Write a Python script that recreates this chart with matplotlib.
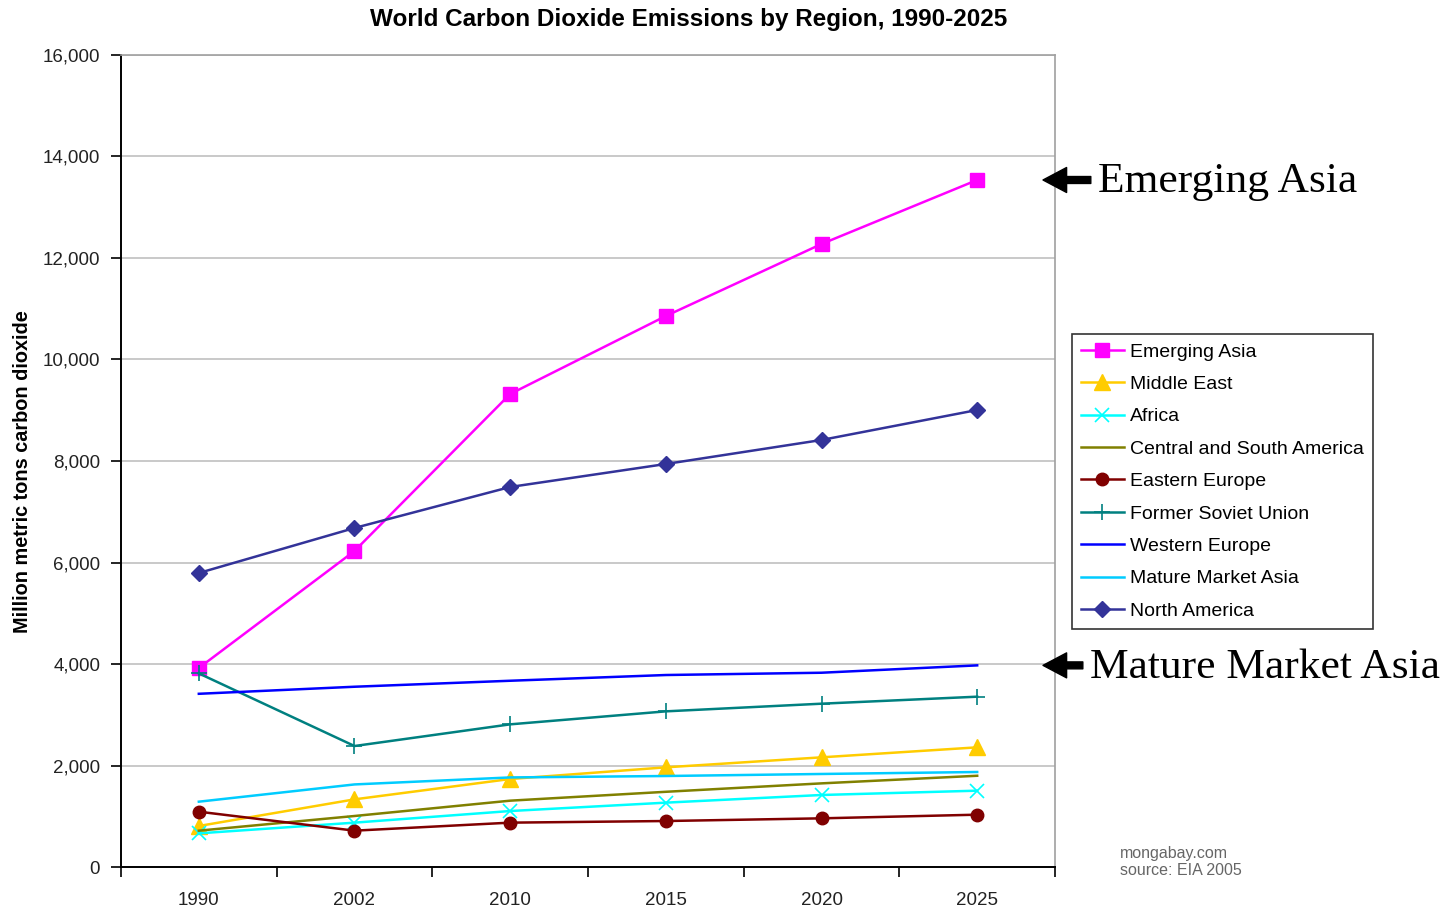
import matplotlib.pyplot as plt
from matplotlib.ticker import FuncFormatter

plt.rcParams["font.family"] = ["Liberation Sans", "DejaVu Sans"]

years = ["1990", "2002", "2010", "2015", "2020", "2025"]

emerging_asia = [3921, 6227, 9320, 10857, 12276, 13537]
middle_east = [808, 1333, 1734, 1964, 2161, 2358]
africa = [663, 874, 1103, 1268, 1419, 1504]
central_south_america = [716, 1005, 1307, 1482, 1648, 1798]
eastern_europe = [1090, 716, 874, 906, 959, 1031]
former_soviet_union = [3815, 2384, 2811, 3067, 3218, 3356]
western_europe = [3413, 3552, 3670, 3783, 3828, 3973]
mature_market_asia = [1287, 1627, 1765, 1793, 1833, 1872]
north_america = [5793, 6680, 7488, 7941, 8414, 9005]

series = [
    ("Emerging Asia", emerging_asia, "#FF00FF", "s", 10, None),
    ("Middle East", middle_east, "#FFCC00", "^", 11, None),
    ("Africa", africa, "#00FFFF", "x", 10, 1.2),
    ("Central and South America", central_south_america, "#808000", None, 0, None),
    ("Eastern Europe", eastern_europe, "#800000", "o", 9, None),
    ("Former Soviet Union", former_soviet_union, "#008080", "+", 12, 1.2),
    ("Western Europe", western_europe, "#0000FF", None, 0, None),
    ("Mature Market Asia", mature_market_asia, "#00CCFF", None, 0, None),
    ("North America", north_america, "#333399", "D", 8, None),
]

fig = plt.figure(figsize=(14.49, 9.09), dpi=100)
ax = fig.add_axes([0.0835, 0.0462, 0.6446, 0.8933])

x = [i + 0.5 for i in range(len(years))]
for name, vals, color, marker, ms, mew in series:
    kw = {}
    if mew is not None:
        kw["markeredgewidth"] = mew
    ax.plot(x, vals, color=color, lw=1.8, marker=marker, markersize=ms,
            markeredgecolor=color, label=name, **kw)

ax.set_xlim(0, 6)
ax.set_ylim(0, 16000)
ax.set_yticks(range(0, 16001, 2000))
ax.yaxis.set_major_formatter(FuncFormatter(lambda v, p: f"{int(v):,}"))
ax.grid(axis="y", color="#C0C0C0", lw=1.2)
ax.set_axisbelow(True)

ax.set_xticks(range(0, 7))
ax.set_xticklabels([])
ax.set_xticks(x, minor=True)
ax.set_xticklabels(years, minor=True)
ax.tick_params(axis="x", which="minor", length=0, pad=18, labelsize=13.5, labelcolor="#222222")
ax.tick_params(axis="x", which="major", length=7, width=1.2, direction="out")
ax.tick_params(axis="y", length=7, width=1.2, labelsize=13.5, labelcolor="#222222", pad=8)

for side in ["top", "right"]:
    ax.spines[side].set_color("#A0A0A0")
    ax.spines[side].set_linewidth(1.2)
for side in ["left", "bottom"]:
    ax.spines[side].set_linewidth(1.4)

fig.text(0.0155, 0.481, "Million metric tons carbon dioxide", rotation=90,
         fontsize=14.3, fontweight="bold", ha="center", va="center")

fig.text(0.4755, 0.978, "World Carbon Dioxide Emissions by Region, 1990-2025",
         ha="center", va="center", fontsize=17.5, fontweight="bold")

leg = ax.legend(loc="upper left", bbox_to_anchor=(1.018, 0.656), fontsize=14,
                frameon=True, fancybox=False, edgecolor="black", handlelength=2.25,
                handletextpad=0.3, labelspacing=0.76, borderpad=0.45,
                borderaxespad=0)
leg.get_frame().set_linewidth(1.2)
leg._legend_box.align = "left"

fig.text(0.773, 0.052, "mongabay.com\nsource: EIA 2005", fontsize=11.5,
         color="#666666", ha="left", va="center", linespacing=1.2)

# arrows with serif callouts on the right
for label, yval, tx in [("Emerging Asia", emerging_asia[-1], 0.7578),
                        ("Mature Market Asia", western_europe[-1], 0.7523)]:
    ax.annotate("", xy=(0.7198, yval), xycoords=("figure fraction", "data"),
                xytext=(tx - 0.005, yval), textcoords=("figure fraction", "data"),
                arrowprops=dict(width=5, headwidth=18, headlength=17,
                                facecolor="black", edgecolor="black", shrink=0),
                annotation_clip=False)
    ax.annotate(label, xy=(tx, yval - 40), xycoords=("figure fraction", "data"),
                fontsize=31.3, family=["Liberation Serif", "DejaVu Serif"],
                va="center", ha="left", annotation_clip=False)

fig.savefig("out.png", dpi=100)
